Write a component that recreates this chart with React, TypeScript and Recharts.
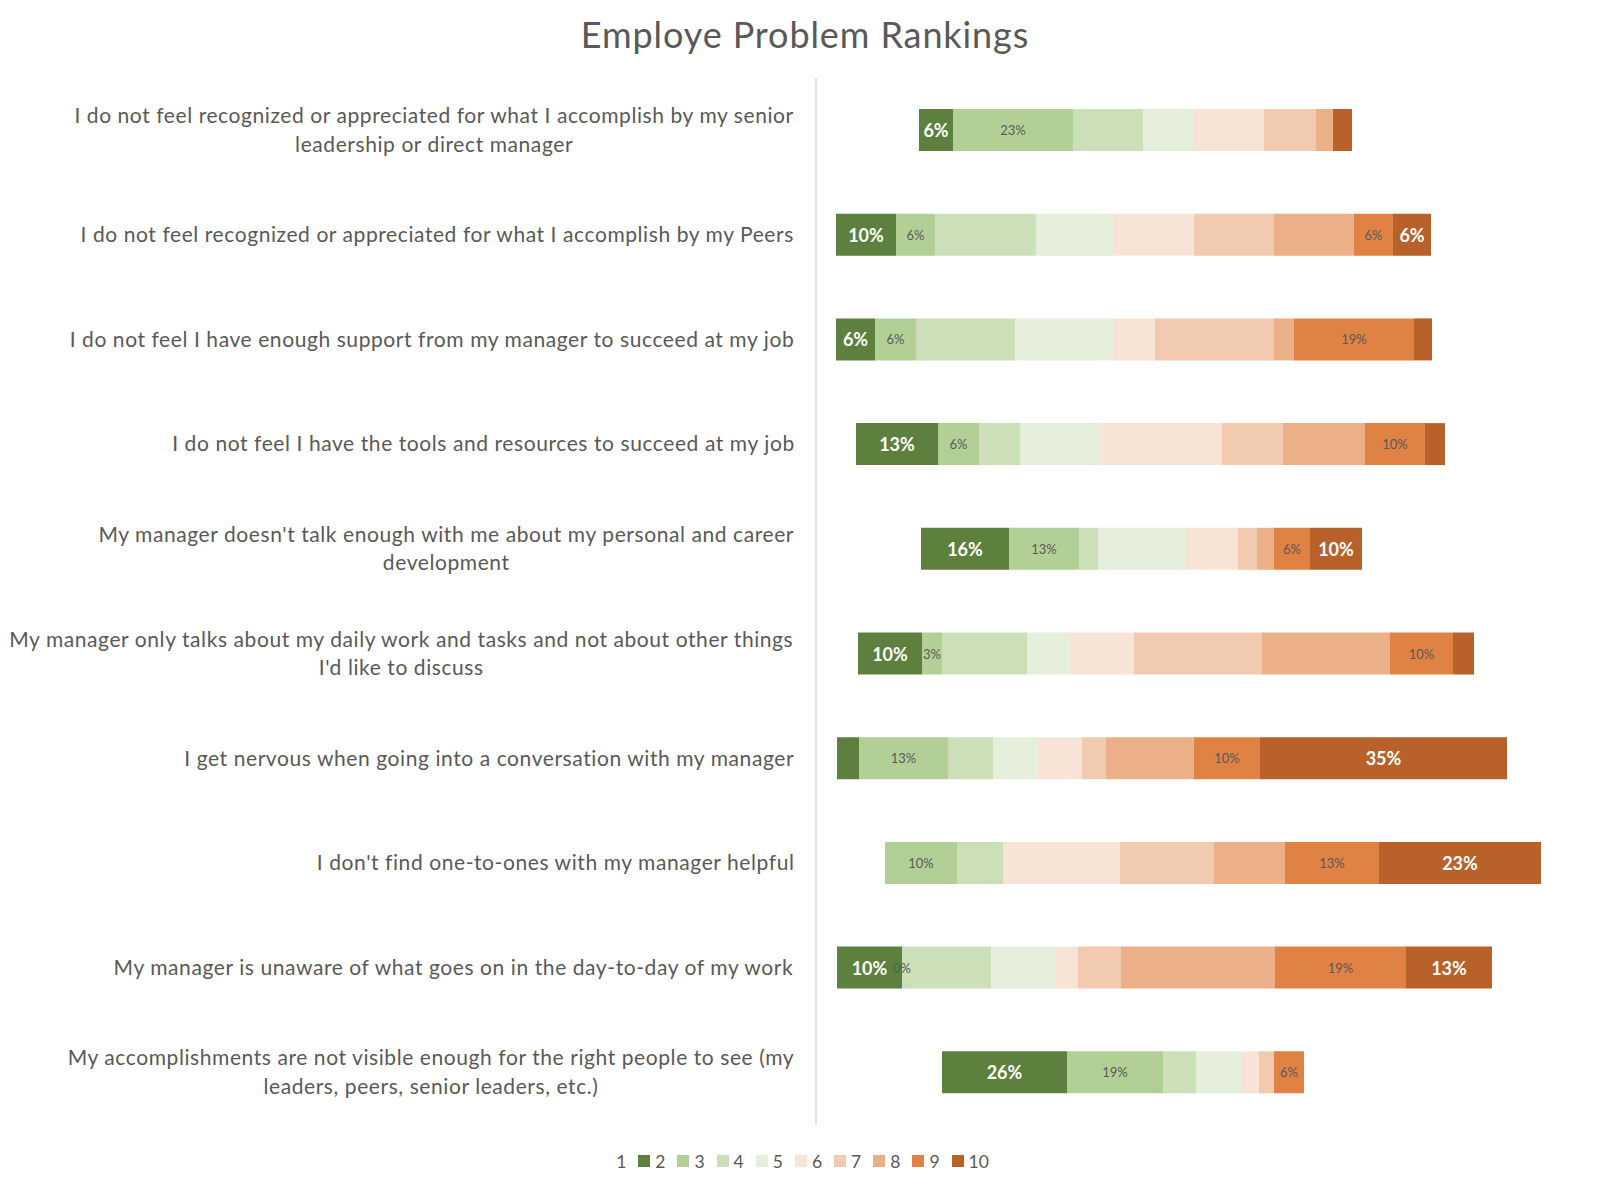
import { BarChart, Bar, XAxis, YAxis, Legend, LabelList } from "recharts";

// survey statements, "\n" marks where the original wraps the label
const categories = [
  "I do not feel recognized or appreciated for what I accomplish by my senior\nleadership or direct manager",
  "I do not feel recognized or appreciated for what I accomplish by my Peers",
  "I do not feel I have enough support from my manager to succeed at my job",
  "I do not feel I have the tools and resources to succeed at my job",
  "My manager doesn't talk enough with me about my personal and career\ndevelopment",
  "My manager only talks about my daily work and tasks and not about other things\nI'd like to discuss",
  "I get nervous when going into a conversation with my manager",
  "I don't find one-to-ones with my manager helpful",
  "My manager is unaware of what goes on in the day-to-day of my work",
  "My accomplishments are not visible enough for the right people to see (my\nleaders, peers, senior leaders, etc.)",
];

const seriesNames = ["1", "2", "3", "4", "5", "6", "7", "8", "9", "10"];

// segment lengths per rank, one value per statement (rank 1 is drawn blank)
const rank1 = [103, 20, 20, 40, 105, 42, 21, 69, 21, 126];
const rank2 = [34, 60, 39, 82, 88, 64, 22, 0, 65, 125];
const rank3 = [120, 39, 41, 41, 70, 20, 89, 72, 0, 96];
const rank4 = [70, 101, 99, 41, 19, 85, 45, 46, 89, 33];
const rank5 = [51, 78, 99, 80, 87, 43, 45, 0, 65, 45];
const rank6 = [70, 80, 41, 122, 53, 64, 44, 117, 22, 18];
const rank7 = [52, 80, 119, 61, 19, 128, 24, 94, 43, 15];
const rank8 = [17, 80, 20, 82, 17, 128, 88, 71, 154, 0];
const rank9 = [0, 39, 120, 60, 36, 63, 66, 94, 131, 30];
const rank10 = [19, 38, 18, 20, 52, 21, 247, 162, 86, 0];

// data labels as printed on the segments
const label2 = ["6%", "10%", "6%", "13%", "16%", "10%", "", "", "10%", "26%"];
const label3 = ["23%", "6%", "6%", "6%", "13%", "3%", "13%", "10%", "0%", "19%"];
const label9 = ["", "6%", "19%", "10%", "6%", "10%", "10%", "13%", "19%", "6%"];
const label10 = ["", "6%", "", "", "10%", "", "35%", "23%", "13%", ""];

const colors = [
  "transparent",
  "#5E803F",
  "#B2D096",
  "#CBE0B8",
  "#E5EFDC",
  "#F7E4D7",
  "#F2CAB0",
  "#ECB089",
  "#E08244",
  "#B8612B",
];

const ranks = [rank1, rank2, rank3, rank4, rank5, rank6, rank7, rank8, rank9, rank10];

const data = categories.map((name, i) => {
  const row: Record<string, string | number> = { name };
  ranks.forEach((r, k) => (row["s" + (k + 1)] = r[i]));
  row.l2 = label2[i];
  row.l3 = label3[i];
  row.l9 = label9[i];
  row.l10 = label10[i];
  return row;
});

const FONT = "Lato, 'Open Sans', sans-serif";
const GREY = "#595959";
const TICK_SIZE = 21;
const TICK_SPACING = 0.58;

let ctx: CanvasRenderingContext2D | null = null;
function measure(text: string) {
  if (!ctx) ctx = document.createElement("canvas").getContext("2d");
  if (!ctx) return text.length * 10;
  ctx.font = `${TICK_SIZE}px Lato`;
  return ctx.measureText(text).width + text.length * TICK_SPACING;
}

function CategoryTick(props: any) {
  const { x, y, payload } = props;
  const lines = String(payload.value).split("\n");
  const w = Math.max(...lines.map((l) => measure(l)));
  const lineH = 28.6;
  const y0 = y - 1.5 - ((lines.length - 1) * lineH) / 2;
  return (
    <g>
      {lines.map((l, i) => (
        <text
          key={i}
          x={x - w / 2}
          y={y0 + i * lineH}
          textAnchor="middle"
          dominantBaseline="central"
          fontFamily={FONT}
          fontSize={TICK_SIZE}
          letterSpacing={TICK_SPACING}
          fill={GREY}
        >
          {l}
        </text>
      ))}
    </g>
  );
}

const labelText = (cx: number, cy: number, value: string, strong: boolean) => (
  <text
    x={cx}
    y={cy}
    textAnchor="middle"
    dominantBaseline="central"
    fontFamily={FONT}
    fontSize={strong ? 18 : 13}
    fontWeight={strong ? 700 : 400}
    fill={strong ? "#ffffff" : GREY}
  >
    {value}
  </text>
);

const segLabel = (strong: boolean) => (props: any) => {
  const { x, y, width, height, value } = props;
  if (!value) return null;
  return labelText(Number(x) + Number(width) / 2, Number(y) + Number(height) / 2, value, strong);
};

// rank 3 segments of zero length are not drawn, so their label sits on the left edge of rank 4
const zeroRank3Label = (props: any) => {
  const { x, y, height, value, index } = props;
  if (!value || rank3[index] !== 0) return null;
  return labelText(Number(x), Number(y) + Number(height) / 2, value, false);
};

function LegendContent(props: any) {
  const items = [...(props.payload || [])].sort(
    (a: any, b: any) => seriesNames.indexOf(a.value) - seriesNames.indexOf(b.value)
  );
  return (
    <div
      style={{
        display: "flex",
        justifyContent: "center",
        alignItems: "center",
        height: 24,
        fontFamily: FONT,
        fontSize: 17.5,
        color: GREY,
      }}
    >
      {items.map((p: any, i: number) => (
        <span key={p.value} style={{ display: "flex", alignItems: "center", marginRight: i < items.length - 1 ? 12 : 0 }}>
          <span style={{ display: "inline-block", width: 12, height: 12, background: p.color, marginRight: 5 }} />
          {p.value}
        </span>
      ))}
    </div>
  );
}

export default function App() {
  return (
    <div style={{ position: "absolute", left: 0, top: 0, width: 1600, height: 1184, background: "#fff" }}>
      <div
        style={{
          position: "absolute",
          left: 0,
          width: 1610,
          top: 11,
          textAlign: "center",
          fontFamily: FONT,
          fontSize: 36,
          letterSpacing: 0.9,
          lineHeight: "46px",
          color: GREY,
        }}
      >
        Employe Problem Rankings
      </div>
      <BarChart
        width={1600}
        height={1184}
        data={data}
        layout="vertical"
        margin={{ top: 78, right: 44, bottom: 35, left: 0 }}
      >
        <XAxis type="number" domain={[0, 740]} hide />
        <YAxis
          type="category"
          dataKey="name"
          width={816}
          axisLine={{ stroke: "#D9D9D9", strokeWidth: 1.5 }}
          tickLine={false}
          tickSize={0}
          tickMargin={21}
          tick={<CategoryTick />}
          interval={0}
        />
        <Legend
          verticalAlign="bottom"
          content={<LegendContent />}
          wrapperStyle={{ position: "absolute", left: -6, top: 1149, width: 1600, height: 24 }}
        />
        {seriesNames.map((n, k) => (
          <Bar
            key={n}
            dataKey={"s" + (k + 1)}
            name={n}
            stackId="a"
            fill={colors[k]}
            barSize={42}
            isAnimationActive={false}
          >
            {k === 1 && <LabelList dataKey="l2" content={segLabel(true)} />}
            {k === 2 && <LabelList dataKey="l3" content={segLabel(false)} />}
            {k === 3 && <LabelList dataKey="l3" content={zeroRank3Label} />}
            {k === 8 && <LabelList dataKey="l9" content={segLabel(false)} />}
            {k === 9 && <LabelList dataKey="l10" content={segLabel(true)} />}
          </Bar>
        ))}
      </BarChart>
    </div>
  );
}
